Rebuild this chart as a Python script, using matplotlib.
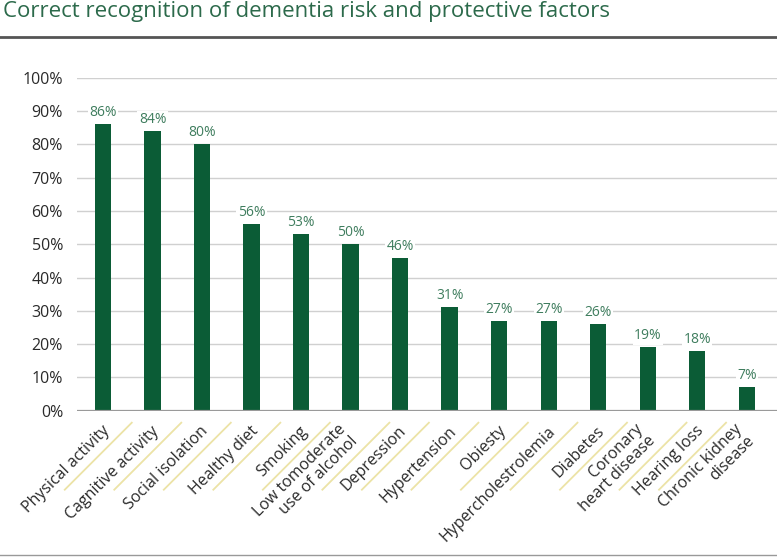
import matplotlib.pyplot as plt
from matplotlib.lines import Line2D
import matplotlib.transforms as mtransforms

# ---------------------------------------
# Data
# ---------------------------------------
categories = [
    "Physical activity", "Cagnitive activity", "Social isolation",
    "Healthy diet", "Smoking", "Low tomoderate\nuse of alcohol",
    "Depression", "Hypertension", "Obiesty", "Hypercholestrolemia",
    "Diabetes", "Coronary\nheart disease", "Hearing loss",
    "Chronic kidney\ndisease",
]
values = [86, 84, 80, 56, 53, 50, 46, 31, 27, 27, 26, 19, 18, 7]
yticks = [0, 10, 20, 30, 40, 50, 60, 70, 80, 90, 100]
ytick_labels = [f"{t}%" for t in yticks]

title = "Correct recognition of dementia risk and protective factors"

# ---------------------------------------
# Style
# ---------------------------------------
plt.rcParams['font.family'] = ['Open Sans', 'DejaVu Sans']
bar_color = "#0b5c36"
label_color = "#3f7d5e"
title_color = "#2c6a4b"
text_color = "#2a2a2a"
sep_color = "#ece3a6"

W, H, DPI = 777, 558, 100
PT = 72 / DPI  # points per pixel
fig = plt.figure(figsize=(W / DPI, H / DPI), dpi=DPI)
fig.patch.set_facecolor("white")

# ---------------------------------------
# Axes (placed in pixel terms)
# ---------------------------------------
ax_left, ax_right = 77, 777
ax_bottom, ax_top = 410.7, 77.7
ax = fig.add_axes([ax_left / W, (H - ax_bottom) / H,
                   (ax_right - ax_left) / W, (ax_bottom - ax_top) / H])

x = list(range(len(categories)))
ax.bar(x, values, width=0.33, color=bar_color, zorder=3)

ax.set_xlim(-0.525, len(categories) - 1 + 0.61)
ax.set_ylim(0, 100)
ax.set_yticks(yticks)
ax.set_yticklabels(ytick_labels, fontsize=11.5, color=text_color)
ax.tick_params(axis="y", length=0, pad=14 * PT)
ax.set_xticks([])

ax.grid(axis="y", color="#d0d0d0", linewidth=1.0, zorder=0)
ax.axhline(0, color="#9a9a9a", linewidth=1.6, zorder=4)
for s in ax.spines.values():
    s.set_visible(False)

# value labels
for xi, v in zip(x, values):
    trans = ax.transData + mtransforms.ScaledTranslation(
        0, 4 * PT / 72, fig.dpi_scale_trans)
    ax.text(xi, v, f"{v}%", transform=trans, ha="center", va="bottom",
            fontsize=10, color=label_color, zorder=5,
            bbox=dict(facecolor="white", edgecolor="none", pad=1.0))

# category labels (rotated)
for xi, name in zip(x, categories):
    dx, dy = 4, 18
    if "\n" in name:
        dx, dy = -1, 22
    trans = ax.get_xaxis_transform() + mtransforms.ScaledTranslation(
        dx * PT / 72, -dy * PT / 72, fig.dpi_scale_trans)
    ax.text(xi, 0, name, transform=trans, rotation=45,
            rotation_mode="anchor", ha="right", va="center",
            fontsize=11.5, color=text_color, linespacing=1.1)

# pale diagonal separators between categories
fig.canvas.draw()
inv = fig.transFigure.inverted()
for i in range(len(categories) - 1):
    shift = 4 + (10 if "\n" in categories[i] else 0)
    px, py = ax.transData.transform((i + 0.5, 0))
    px += shift
    p0 = inv.transform((px, py - 12))
    p1 = inv.transform((px - 67, py - 79))
    fig.add_artist(Line2D([p0[0], p1[0]], [p0[1], p1[1]],
                          color=sep_color, linewidth=1.3))

# ---------------------------------------
# Title and rules
# ---------------------------------------
fig.text(3 / W, 1 - 17 / H, title, ha="left", va="baseline",
         fontsize=16, color=title_color)
fig.add_artist(Line2D([0, 1], [1 - 37.3 / H, 1 - 37.3 / H],
                      color="#555555", linewidth=2.0))
fig.add_artist(Line2D([0, 1], [1 - 555 / H, 1 - 555 / H],
                      color="#999999", linewidth=1.0))

fig.savefig("out.png", dpi=DPI, facecolor="white")
